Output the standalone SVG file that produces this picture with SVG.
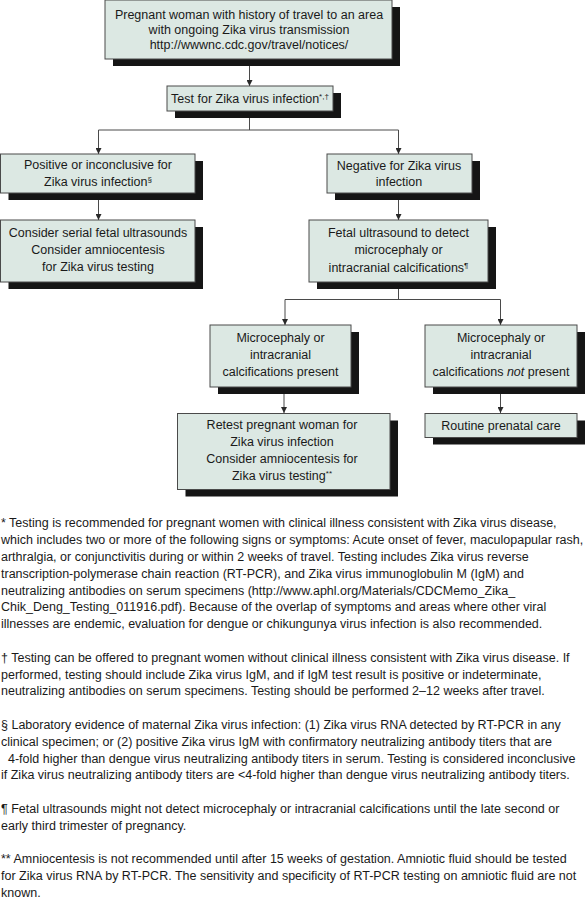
<svg xmlns="http://www.w3.org/2000/svg" width="586" height="910" viewBox="0 0 586 910">
<style>
  .box { fill: #dce8e3; stroke: #4a4a4a; stroke-width: 1; }
  .shadow { fill: #151515; }
  .t { font-family: "Liberation Sans", Arial, sans-serif; font-size: 12.5px; fill: #1a1a1a; text-anchor: middle; }
  .fn { font-family: "Liberation Sans", Arial, sans-serif; font-size: 12.5px; fill: #1a1a1a; }
  .sup { font-size: 8px; }
  .conn { fill: none; stroke: #4a4a4a; stroke-width: 1; }
</style>
<defs>
  <marker id="arrow" viewBox="0 0 6 6" refX="6" refY="3" markerWidth="6" markerHeight="6" markerUnits="userSpaceOnUse" orient="auto">
    <path d="M0,0 L6,3 L0,6 Z" fill="#2a2a2a"/>
  </marker>
</defs>
<rect width="586" height="910" fill="#ffffff"/>

<g id="connectors">
  <path class="conn" d="M249.5,59 V86" marker-end="url(#arrow)"/>
  <path class="conn" d="M249.5,111 V130 M98.5,130 H398.5"/>
  <path class="conn" d="M98.5,130 V154" marker-end="url(#arrow)"/>
  <path class="conn" d="M398.5,130 V154" marker-end="url(#arrow)"/>
  <path class="conn" d="M98.5,193 V220" marker-end="url(#arrow)"/>
  <path class="conn" d="M398.5,193 V220" marker-end="url(#arrow)"/>
  <path class="conn" d="M398.5,282 V299.5 M285,299.5 H500.5"/>
  <path class="conn" d="M285,299.5 V325" marker-end="url(#arrow)"/>
  <path class="conn" d="M500.5,299.5 V325" marker-end="url(#arrow)"/>
  <path class="conn" d="M284,387 V413" marker-end="url(#arrow)"/>
  <path class="conn" d="M500.5,387 V413" marker-end="url(#arrow)"/>
</g>

<g id="node-start">
  <rect class="shadow" x="113" y="7" width="287" height="59"/>
  <rect class="box" x="105" y="0" width="287" height="59"/>
  <text class="t" x="249" y="18.5">Pregnant woman with history of travel to an area</text>
  <text class="t" x="249" y="33.5">with ongoing Zika virus transmission</text>
  <text class="t" x="249" y="49">http://wwwnc.cdc.gov/travel/notices/</text>
</g>

<g id="node-test">
  <rect class="shadow" x="175" y="93" width="166" height="25"/>
  <rect class="box" x="167" y="86" width="166" height="25"/>
  <text class="t" x="250" y="103">Test for Zika virus infection<tspan class="sup" dy="-4">*,†</tspan></text>
</g>

<g id="node-positive">
  <rect class="shadow" x="8.5" y="161" width="194.5" height="39"/>
  <rect class="box" x="0.5" y="154" width="194.5" height="39"/>
  <text class="t" x="98" y="169">Positive or inconclusive for</text>
  <text class="t" x="98" y="185.5">Zika virus infection<tspan class="sup" dy="-4">§</tspan></text>
</g>

<g id="node-negative">
  <rect class="shadow" x="335" y="161" width="145" height="39"/>
  <rect class="box" x="327" y="154" width="145" height="39"/>
  <text class="t" x="399" y="169.5">Negative for Zika virus</text>
  <text class="t" x="399" y="186">infection</text>
</g>

<g id="node-consider">
  <rect class="shadow" x="8.5" y="227" width="194.5" height="62"/>
  <rect class="box" x="0.5" y="220" width="194.5" height="62"/>
  <text class="t" x="98" y="237.3">Consider serial fetal ultrasounds</text>
  <text class="t" x="98" y="254.3">Consider amniocentesis</text>
  <text class="t" x="98" y="271.3">for Zika virus testing</text>
</g>

<g id="node-ultrasound">
  <rect class="shadow" x="317" y="227" width="179" height="62"/>
  <rect class="box" x="309" y="220" width="179" height="62"/>
  <text class="t" x="398.5" y="237.3">Fetal ultrasound to detect</text>
  <text class="t" x="398.5" y="254.3">microcephaly or</text>
  <text class="t" x="398.5" y="271.5">intracranial calcifications<tspan class="sup" dy="-4">¶</tspan></text>
</g>

<g id="node-present">
  <rect class="shadow" x="218" y="332" width="141" height="62"/>
  <rect class="box" x="210" y="325" width="141" height="62"/>
  <text class="t" x="280.5" y="342">Microcephaly or</text>
  <text class="t" x="280.5" y="359">intracranial</text>
  <text class="t" x="280.5" y="376">calcifications present</text>
</g>

<g id="node-notpresent">
  <rect class="shadow" x="433" y="332" width="152" height="62"/>
  <rect class="box" x="425" y="325" width="152" height="62"/>
  <text class="t" x="501" y="342">Microcephaly or</text>
  <text class="t" x="501" y="359">intracranial</text>
  <text class="t" x="501" y="376">calcifications <tspan font-style="italic">not</tspan> present</text>
</g>

<g id="node-retest">
  <rect class="shadow" x="185.5" y="420.5" width="212.5" height="76"/>
  <rect class="box" x="177.5" y="413.5" width="212.5" height="76"/>
  <text class="t" x="282" y="428.5">Retest pregnant woman for</text>
  <text class="t" x="282" y="445.5">Zika virus infection</text>
  <text class="t" x="282" y="463">Consider amniocentesis for</text>
  <text class="t" x="282" y="480">Zika virus testing<tspan class="sup" dy="-4">**</tspan></text>
</g>

<g id="node-routine">
  <rect class="shadow" x="433" y="420.5" width="152" height="24"/>
  <rect class="box" x="425" y="413.5" width="152" height="24"/>
  <text class="t" x="501" y="430">Routine prenatal care</text>
</g>

<g id="footnotes">
  <text class="fn" x="1" y="527.3">* Testing is recommended for pregnant women with clinical illness consistent with Zika virus disease,</text>
  <text class="fn" x="1" y="544.1">which includes two or more of the following signs or symptoms: Acute onset of fever, maculopapular rash,</text>
  <text class="fn" x="1" y="560.9">arthralgia, or conjunctivitis during or within 2 weeks of travel. Testing includes Zika virus reverse</text>
  <text class="fn" x="1" y="577.7">transcription-polymerase chain reaction (RT-PCR), and Zika virus immunoglobulin M (IgM) and</text>
  <text class="fn" x="1" y="594.5">neutralizing antibodies on serum specimens (http://www.aphl.org/Materials/CDCMemo_Zika_</text>
  <text class="fn" x="1" y="611.3">Chik_Deng_Testing_011916.pdf). Because of the overlap of symptoms and areas where other viral</text>
  <text class="fn" x="1" y="628.1">illnesses are endemic, evaluation for dengue or chikungunya virus infection is also recommended.</text>

  <text class="fn" x="1" y="661.7">† Testing can be offered to pregnant women without clinical illness consistent with Zika virus disease. If</text>
  <text class="fn" x="1" y="678.5">performed, testing should include Zika virus IgM, and if IgM test result is positive or indeterminate,</text>
  <text class="fn" x="1" y="695.3">neutralizing antibodies on serum specimens. Testing should be performed 2–12 weeks after travel.</text>

  <text class="fn" x="1" y="728.9">§ Laboratory evidence of maternal Zika virus infection: (1) Zika virus RNA detected by RT-PCR in any</text>
  <text class="fn" x="1" y="745.7">clinical specimen; or (2) positive Zika virus IgM with confirmatory neutralizing antibody titers that are</text>
  <text class="fn" x="8" y="762.5">4-fold higher than dengue virus neutralizing antibody titers in serum. Testing is considered inconclusive</text>
  <text class="fn" x="1" y="779.3">if Zika virus neutralizing antibody titers are &lt;4-fold higher than dengue virus neutralizing antibody titers.</text>

  <text class="fn" x="1" y="812.9">¶ Fetal ultrasounds might not detect microcephaly or intracranial calcifications until the late second or</text>
  <text class="fn" x="1" y="829.7">early third trimester of pregnancy.</text>

  <text class="fn" x="1" y="863.3">** Amniocentesis is not recommended until after 15 weeks of gestation. Amniotic fluid should be tested</text>
  <text class="fn" x="1" y="880.1">for Zika virus RNA by RT-PCR. The sensitivity and specificity of RT-PCR testing on amniotic fluid are not</text>
  <text class="fn" x="1" y="896.9">known.</text>
</g>
</svg>
